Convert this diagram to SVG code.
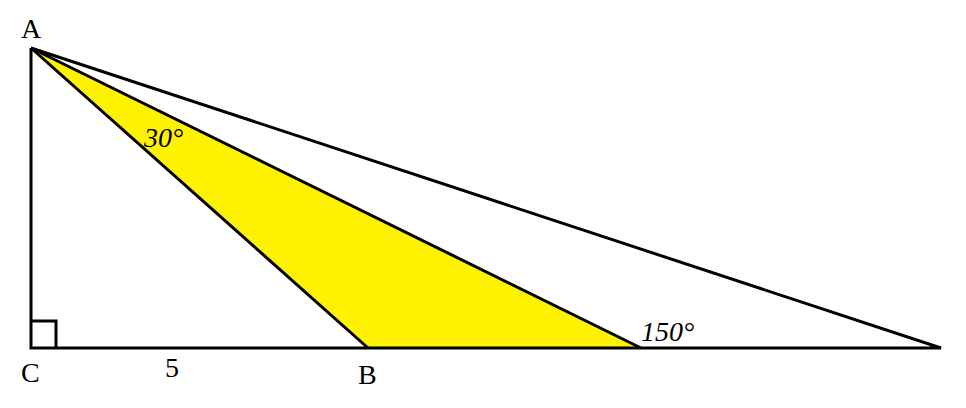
<svg xmlns="http://www.w3.org/2000/svg" width="966" height="408" viewBox="0 0 966 408">
<style>
.ln{stroke:#000;stroke-width:3;fill:none;stroke-linejoin:miter}
.t{font-family:"Liberation Serif","Times New Roman",serif;font-size:28px;fill:#000}
.i{font-style:italic}
</style>
<rect width="966" height="408" fill="#fff"/>
<g id="shaded">
<polygon points="31,48 368,348 641,348" fill="#fff200"/>
</g>
<g id="connectors">
<polyline class="ln" points="31,48 31,348 941,348 31,48"/>
<line class="ln" x1="31" y1="48" x2="368" y2="348"/>
<line class="ln" x1="31" y1="48" x2="641" y2="348"/>
<polyline class="ln" points="31,321 56,321 56,348"/>
</g>
<g id="labels">
<text class="t" x="21" y="38">A</text>
<text class="t" x="21" y="382">C</text>
<text class="t" x="165" y="377">5</text>
<text class="t" x="358" y="384">B</text>
<text class="t i" x="144" y="147">30°</text>
<text class="t i" x="641" y="341">150°</text>
</g>
</svg>
